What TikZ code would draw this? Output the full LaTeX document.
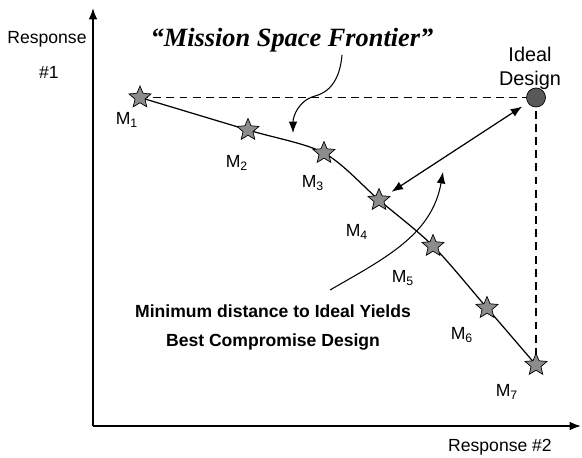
\documentclass[tikz,border=0pt]{standalone}
\usepackage{fontspec}
\setmainfont{Liberation Sans}
\newfontfamily\titlefont{Liberation Serif}
\usetikzlibrary{shapes.geometric,arrows.meta}

\tikzset{
  design/.style={star, star points=5, star point ratio=2.2, draw, fill=gray!90, minimum size=0.46cm, inner sep=0pt},
  mlabel/.style={font=\fontsize{10}{12}\selectfont},
  axis/.style={->, line width=1pt},
  guide/.style={line width=1pt, dash pattern=on 4.5pt off 3pt},
}

\begin{document}
\begin{tikzpicture}[>={Latex[length=6.5pt,width=5pt]}]
\useasboundingbox (0,0) rectangle (11.64,9.14);
% axes
\coordinate (o) at (1.86,0.62);
\coordinate (ytop) at (1.86,8.98);
\coordinate (xend) at (11.62,0.62);
\draw[axis] (o) -- (ytop);
\draw[axis] (o) -- (xend);
\node[mlabel] (resp1) at (0.94,8.36) {Response};
\node[mlabel] (resp1b) at (0.98,7.70) {\#1};
\node[mlabel] (resp2) at (10.0,0.20) {Response \#2};

% designs on the frontier
\coordinate (p1) at (2.80,7.19);
\coordinate (p2) at (4.96,6.54);
\coordinate (p3) at (6.48,6.08);
\coordinate (p4) at (7.58,5.14);
\coordinate (p5) at (8.66,4.22);
\coordinate (p6) at (9.74,2.98);
\coordinate (p7) at (10.72,1.84);
\coordinate (pi) at (10.72,7.19);

% dashed guides to the ideal
\draw[guide] (p1) -- (pi);
\draw[guide] (pi) -- (p7);
% frontier
\draw[line width=0.7pt] plot[smooth, tension=0.5] coordinates {(p1) (p2) (p3) (p4) (p5) (p6) (p7)};

\foreach \i in {1,...,7}
  \node[design] (m\i) at (p\i) {};
\node[circle, draw, fill=black!65, minimum size=0.38cm, inner sep=0pt] (ideal) at (pi) {};

% labels
\node[mlabel] (l1) at (2.54,6.74) {M\textsubscript{1}};
\node[mlabel] (l2) at (4.74,5.88) {M\textsubscript{2}};
\node[mlabel] (l3) at (6.26,5.48) {M\textsubscript{3}};
\node[mlabel] (l4) at (7.14,4.50) {M\textsubscript{4}};
\node[mlabel] (l5) at (8.06,3.58) {M\textsubscript{5}};
\node[mlabel] (l6) at (9.24,2.44) {M\textsubscript{6}};
\node[mlabel] (l7) at (10.14,1.30) {M\textsubscript{7}};
\node[font=\fontsize{11.3}{13.6}\selectfont, align=center] (idl) at (10.60,7.77) {Ideal\\Design};

% title
\node[font=\titlefont\bfseries\itshape\fontsize{15}{18}\selectfont] (title) at (5.84,8.34) {“Mission Space Frontier”};
\coordinate (t0) at (6.84,8.04);
\coordinate (t1) at (6.30,7.22);
\coordinate (t2) at (5.86,6.48);
\draw[->, line width=0.6pt] (t0) to[out=-95,in=15] (t1) to[out=195,in=90] (t2);

% compromise
\draw[<->, line width=0.7pt, shorten <=0.3cm, shorten >=0.33cm] (m4.center) -- (ideal.center);
\node[font=\bfseries\fontsize{10}{12}\selectfont] (txt1) at (5.46,2.92) {Minimum distance to Ideal Yields};
\node[font=\bfseries\fontsize{10}{12}\selectfont] (txt2) at (5.46,2.30) {Best Compromise Design};
\coordinate (c0) at (6.60,3.34);
\coordinate (c1) at (8.86,5.70);
\draw[->, line width=0.6pt] (c0) to[out=30,in=-100] (c1);
\end{tikzpicture}
\end{document}
